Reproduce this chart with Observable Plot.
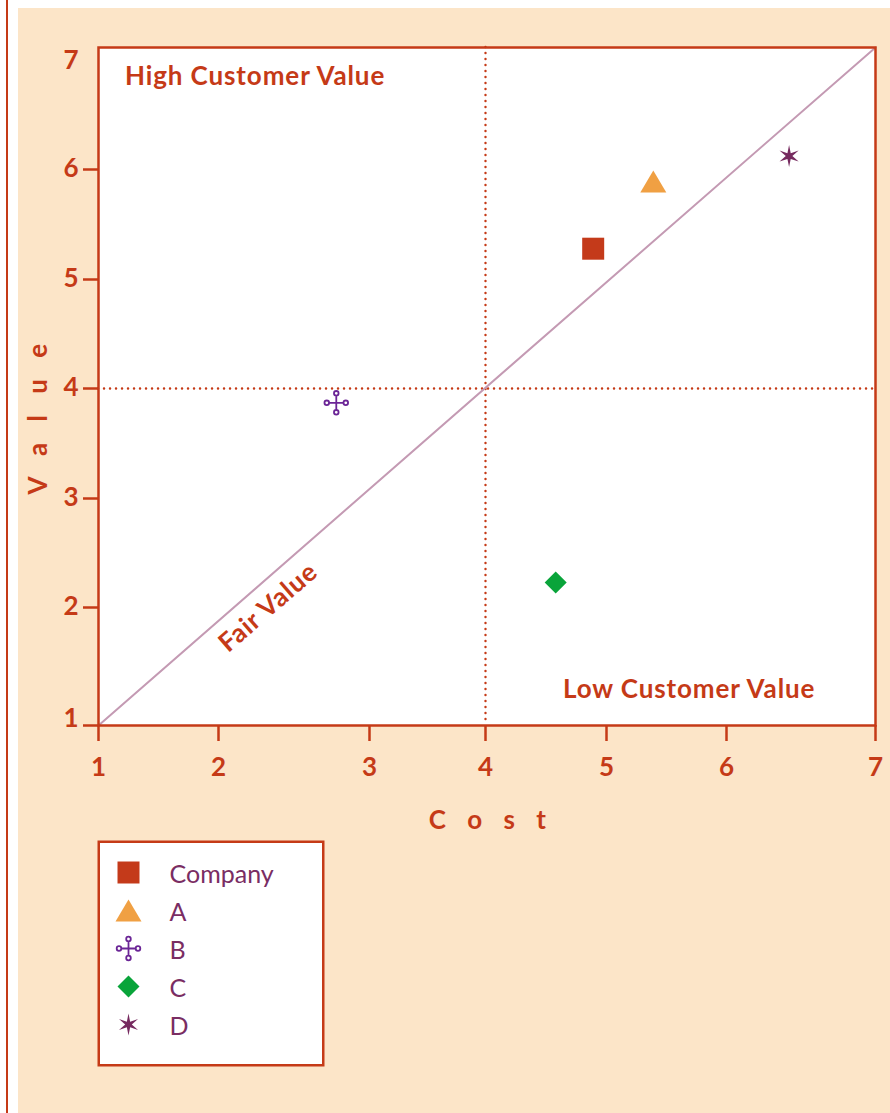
<!DOCTYPE html>
<html>
<head>
<meta charset="utf-8">
<script src="https://cdn.jsdelivr.net/npm/d3@7"></script>
<script src="https://cdn.jsdelivr.net/npm/@observablehq/plot@0.6"></script>
<style>
  html, body { margin: 0; padding: 0; background: #ffffff; width: 890px; height: 1113px; overflow: hidden; }
  #page { position: relative; width: 890px; height: 1113px; font-family: Lato, sans-serif; }
  #rule { position: absolute; left: 6px; top: 0; width: 2px; height: 1113px; background: #C53A17; }
  #panel { position: absolute; left: 18px; top: 8px; width: 872px; height: 1105px; background: #FCE5C8; }
  #chart { position: absolute; left: 0; top: 0; }
  #legend { position: absolute; left: 97px; top: 840px; }
</style>
</head>
<body>
<div id="page">
  <div id="rule"></div>
  <div id="panel"></div>
  <div id="chart"></div>
  <div id="legend"></div>
</div>
<script>
// ---- data ----
const names = ["Company", "A", "B", "C", "D"];
const cost  = [4.89, 5.39, 2.78, 4.58, 6.42];
const value = [5.28, 5.89, 3.87, 2.23, 6.11];
const axisTicks = [1, 2, 3, 4, 5, 6, 7];
const fairValue = [1, 7];
const midpoint = 4;
const regionLabels = ["High Customer Value", "Low Customer Value", "Fair Value"];
const axisTitles = ["C o s t", "V a l u e"];

// ---- layout / styles ----
// the reference axes place their ticks unevenly; these are the spacing offsets of each tick
const xTickOffsets = [0, 120, 271, 387, 508, 628, 777];
const yTickOffsets = [0, 118, 227, 337, 446, 556, 678];
const xWarp = d3.scaleLinear().domain(axisTicks).range(xTickOffsets);
const yWarp = d3.scaleLinear().domain(axisTicks).range(yTickOffsets);
const frameW = 777, frameH = 678;

const red = "#C53A17";
const plum = "#7A2D63";
const fills = {Company: "#C43A1A", A: "#F0A043", B: "none", C: "#09A43A", D: "#762A5F"};
const strokes = {Company: "none", A: "none", B: "#6B2596", C: "none", D: "none"};
const symbols = {
  Company: {draw(c) { c.rect(-11, -11, 22, 22); }},
  A: {draw(c) { c.moveTo(0, -11); c.lineTo(13, 11); c.lineTo(-13, 11); c.closePath(); }},
  B: {draw(c) {
    const a = 9.5, r = 2.3;
    c.moveTo(-a + r, 0); c.lineTo(a - r, 0);
    c.moveTo(0, -a + r); c.lineTo(0, a - r);
    for (const [x, y] of [[a, 0], [-a, 0], [0, a], [0, -a]]) { c.moveTo(x + r, y); c.arc(x, y, r, 0, 2 * Math.PI); }
  }},
  C: {draw(c) { c.moveTo(0, -11); c.lineTo(11, 0); c.lineTo(0, 11); c.lineTo(-11, 0); c.closePath(); }},
  D: {draw(c) {
    for (let i = 0; i < 12; i++) {
      const ang = -Math.PI / 2 + i * Math.PI / 6;
      const rr = i % 2 ? 3.3 : 11;
      const x = rr * Math.cos(ang), y = rr * Math.sin(ang);
      if (i === 0) c.moveTo(x, y); else c.lineTo(x, y);
    }
    c.closePath();
  }}
};

const points = names.map((name, i) => ({name, cost: cost[i], value: value[i]}));
const fairLine = fairValue.map(v => ({cost: v, value: v}));

const dotMarks = names.map(n => Plot.dot(points.filter(p => p.name === n), {
  x: "cost", y: "value", symbol: symbols[n], r: 10,
  fill: fills[n], stroke: strokes[n], strokeWidth: 1.8
}));

const bold = {fontSize: 26, fontWeight: "bold", fill: red};
const dotted = {stroke: red, strokeWidth: 2.4, strokeDasharray: "0.1,5.9", strokeLinecap: "round"};

const chart = Plot.plot({
  width: 890, height: 840,
  marginLeft: 98, marginRight: 15, marginTop: 47, marginBottom: 115,
  style: {fontFamily: "Lato, sans-serif", background: "transparent", overflow: "visible", color: red},
  x: {transform: xWarp, domain: [0, frameW], axis: null},
  y: {transform: yWarp, domain: [0, frameH], axis: null},
  marks: [
    Plot.frame({fill: "white", stroke: "none"}),
    Plot.ruleX([midpoint], {x: d => d, ...dotted}),
    Plot.ruleY([midpoint], {y: d => d, ...dotted}),
    Plot.line(fairLine, {x: "cost", y: "value", stroke: "#C49AB3", strokeWidth: 2}),
    Plot.frame({stroke: red, strokeWidth: 2.5}),
    // x axis ticks + labels
    Plot.ruleX(axisTicks, {x: d => d, insetTop: frameH, insetBottom: -16, stroke: red, strokeWidth: 2.5}),
    Plot.text(axisTicks, {x: d => d, frameAnchor: "bottom", dy: 32, lineAnchor: "top",
      text: d => String(d), textAnchor: "middle", ...bold}),
    // y axis ticks + labels
    Plot.ruleY(axisTicks.slice(0, 6), {y: d => d, insetLeft: -15, insetRight: frameW, stroke: red, strokeWidth: 2.5}),
    Plot.text(axisTicks.slice(1, 6), {y: d => d, frameAnchor: "left", dx: -20, dy: -1,
      text: d => String(d), textAnchor: "end", ...bold}),
    Plot.text([axisTicks[0]], {y: d => d, frameAnchor: "left", dx: -20, dy: -7,
      text: d => String(d), textAnchor: "end", ...bold}),
    Plot.text([axisTicks[6]], {y: d => d, frameAnchor: "left", dx: -20, dy: 13, text: d => String(d),
      textAnchor: "end", ...bold}),
    // region labels
    Plot.text([regionLabels[0]], {x: 1.22, y: 6.76, text: d => d, textAnchor: "start", ...bold}),
    Plot.text([regionLabels[1]], {x: 4.64, y: 1.30, text: d => d, textAnchor: "start", ...bold}),
    Plot.text([regionLabels[2]], {x: 2.33, y: 2.0, text: d => d, rotate: -41, textAnchor: "middle", ...bold}),
    // axis titles
    Plot.text([axisTitles[0]], {frameAnchor: "bottom", dx: 4, dy: 103, text: d => d, textAnchor: "middle", ...bold}),
    Plot.text([axisTitles[1]], {frameAnchor: "left", dx: -60, dy: 29, rotate: -90, text: d => d,
      textAnchor: "middle", ...bold}),
    ...dotMarks
  ]
});
d3.select(chart).selectAll("text")
  .filter(function() { return axisTitles.includes(this.textContent); })
  .attr("letter-spacing", 7.5);
d3.select(chart).selectAll("text")
  .filter(function() { return regionLabels.includes(this.textContent); })
  .attr("letter-spacing", 0.9);
document.getElementById("chart").appendChild(chart);

// ---- legend ----
const legendDots = names.map(n => Plot.dot([n], {
  y: d => d, frameAnchor: "left", dx: 31, symbol: symbols[n], r: 10,
  fill: fills[n], stroke: strokes[n], strokeWidth: 1.8
}));
const legend = Plot.plot({
  width: 227, height: 226, margin: 0,
  style: {fontFamily: "Lato, sans-serif", background: "transparent", overflow: "visible"},
  y: {type: "point", domain: names, range: [31, 184], padding: 0, axis: null},
  marks: [
    Plot.frame({fill: "white", stroke: red, strokeWidth: 2.5, inset: 1.25}),
    ...legendDots,
    Plot.text(names, {y: d => d, frameAnchor: "left", dx: 72, text: d => d, textAnchor: "start",
      fontSize: 25, fill: plum, dy: 2})
  ]
});
document.getElementById("legend").appendChild(legend);
</script>
</body>
</html>
